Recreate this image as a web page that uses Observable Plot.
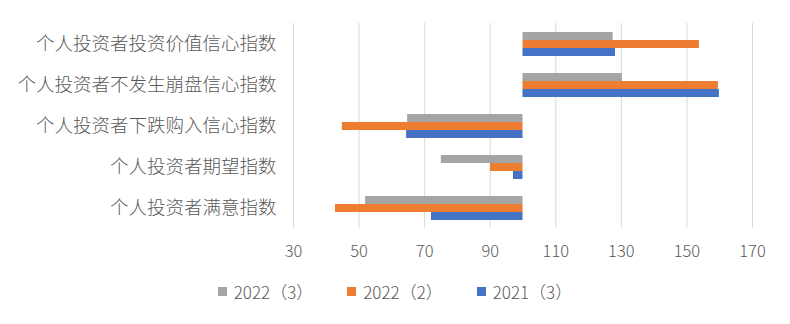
<!DOCTYPE html>
<html>
<head>
<meta charset="utf-8">
<script src="https://cdn.jsdelivr.net/npm/d3@7"></script>
<script src="https://cdn.jsdelivr.net/npm/@observablehq/plot@0.6"></script>
<style>
  html, body { margin: 0; padding: 0; background: #fff; }
  #chart { width: 790px; height: 324px; position: relative; font-family: "Noto Sans CJK SC", "Noto Sans", sans-serif; color: #595959; }
  #legend { display: flex; justify-content: center; align-items: center; font-size: 17px; font-weight: 300; color: #595959; margin-top: 9px; }
  .item { display: flex; align-items: center; margin: 0 17px; }
  .sw { width: 9px; height: 9px; margin-right: 7px; }
</style>
</head>
<body>
<div id="chart"></div>
<script>
const categories = [
  "个人投资者投资价值信心指数",
  "个人投资者不发生崩盘信心指数",
  "个人投资者下跌购入信心指数",
  "个人投资者期望指数",
  "个人投资者满意指数"
];
const seriesNames = ["2022（3）", "2022（2）", "2021（3）"];
const s2022_3 = [127.5, 130.3, 64.8, 75.1, 52.0];
const s2022_2 = [153.8, 159.6, 44.9, 90.1, 42.8];
const s2021_3 = [128.2, 159.9, 64.5, 97.1, 72.1];
const colors = ["#A5A5A5", "#ED7D31", "#4472C4"];
const xTicks = [30, 50, 70, 90, 110, 130, 150, 170];
const baseline = 100;

const seriesValues = [s2022_3, s2022_2, s2021_3];
const data = [];
categories.forEach((c, i) => {
  seriesNames.forEach((s, j) => {
    data.push({category: c, series: s, value: seriesValues[j][i]});
  });
});

const plot = Plot.plot({
  width: 790,
  height: 270,
  marginTop: 22,
  marginBottom: 42,
  marginLeft: 293,
  marginRight: 38,
  style: {fontSize: "16px", fontWeight: 300, fontFamily: "'Noto Sans CJK SC', 'Noto Sans', sans-serif", color: "#595959", background: "#fff"},
  x: {domain: [30, 170], ticks: xTicks, label: null},
  fy: {domain: categories, padding: 0, label: null, axis: null},
  y: {domain: seriesNames, paddingInner: 0, paddingOuter: 0.96, axis: null},
  color: {domain: seriesNames, range: colors},
  marks: [
    Plot.gridX(xTicks, {stroke: "#d9d9d9", strokeOpacity: 1, strokeWidth: 1}),
    Plot.barX(data, {fy: "category", y: "series", x1: () => baseline, x2: "value", fill: "series"}),
    Plot.axisX({ticks: xTicks, tickSize: 0, tickPadding: 17, fill: "#595959", fontSize: 16.5, label: null}),
    Plot.axisFy({anchor: "left", tickSize: 0, tickPadding: 17, fill: "#595959", fontSize: 18.5, label: null})
  ]
});
document.getElementById("chart").appendChild(plot);

const legend = document.createElement("div");
legend.id = "legend";
seriesNames.forEach((s, j) => {
  const it = document.createElement("div");
  it.className = "item";
  const sw = document.createElement("span");
  sw.className = "sw";
  sw.style.background = colors[j];
  const t = document.createElement("span");
  t.textContent = s;
  it.appendChild(sw);
  it.appendChild(t);
  legend.appendChild(it);
});
document.getElementById("chart").appendChild(legend);
</script>
</body>
</html>
